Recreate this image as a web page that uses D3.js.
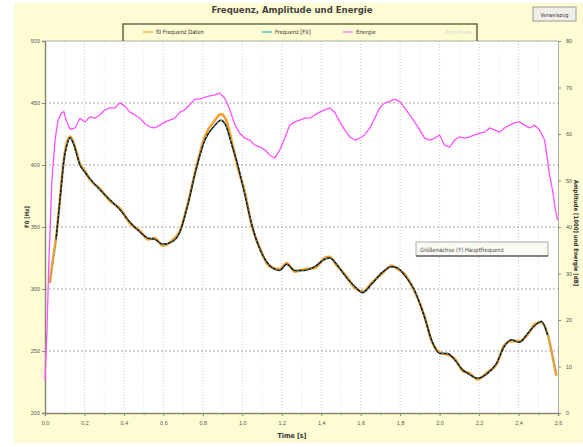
<!DOCTYPE html>
<html><head><meta charset="utf-8">
<script src="https://cdn.jsdelivr.net/npm/d3@7"></script>
<style>
html,body{margin:0;padding:0;background:#fff;}
svg{display:block;font-family:"Liberation Sans Narrow","DejaVu Sans Condensed","Liberation Sans",sans-serif;}
</style></head><body>
<svg id="c" width="583" height="447"></svg>
<script>
// ---------- data ----------
const title = "Frequenz, Amplitude und Energie";
const xTicks = [0,0.2,0.4,0.6,0.8,1.0,1.2,1.4,1.6,1.8,2.0,2.2,2.4,2.6];
const leftTicks = [200,250,300,350,400,450,500];
const rightTicks = [0,10,20,30,40,50,60,70,80];
const legendLabels = ["f0 Frequenz Daten","Frequenz [F0]","Energie","Amplitude"];

// Hauptfrequenz F0 (Hz)
const freqTime = [0.025,0.035,0.056,0.076,0.096,0.111,0.127,0.147,0.177,0.203,0.228,0.278,0.329,0.380,0.430,0.481,0.522,0.557,0.597,0.643,0.684,0.724,0.765,0.810,0.861,0.891,0.916,0.947,0.977,1.013,1.048,1.089,1.139,1.190,1.225,1.266,1.316,1.367,1.418,1.443,1.478,1.519,1.570,1.610,1.656,1.706,1.757,1.787,1.823,1.873,1.924,1.959,2.000,2.040,2.076,2.116,2.152,2.192,2.243,2.288,2.329,2.364,2.405,2.445,2.486,2.516,2.547,2.572,2.592];
const freqF0 = [305,317,340,372,404,416,422,416,400,394,389,380,372,364,354,346,341,340,336,338,346,368,396,420,432,436,432,416,400,376,352,332,319,315,320,315,315,318,324,325,320,311,302,297,304,313,318,317,311,299,277,259,248,248,243,235,231,228,232,240,254,259,257,264,271,274,263,247,233];
// f0 Frequenz Daten (raw measurement)
const freqData = [305,318,341,373,405,418,423,417,401,395,388,381,371,365,353,347,340,341,335,339,347,369,397,423,436,441,437,419,398,378,351,333,318,316,321,314,316,317,325,326,319,312,301,298,305,312,319,316,312,298,278,258,249,247,244,234,232,227,233,239,255,258,258,263,272,273,264,246,230];

// Energie (dB)
const energyTime = [0.000,0.010,0.020,0.035,0.051,0.066,0.086,0.096,0.106,0.127,0.152,0.177,0.203,0.228,0.253,0.278,0.304,0.329,0.354,0.380,0.405,0.430,0.456,0.481,0.506,0.532,0.557,0.582,0.608,0.633,0.658,0.684,0.709,0.734,0.759,0.785,0.810,0.835,0.861,0.886,0.911,0.937,0.962,0.987,1.013,1.038,1.063,1.089,1.114,1.139,1.165,1.190,1.215,1.240,1.266,1.291,1.316,1.342,1.367,1.392,1.418,1.443,1.468,1.494,1.519,1.544,1.570,1.595,1.620,1.646,1.671,1.696,1.722,1.747,1.772,1.797,1.823,1.848,1.873,1.899,1.924,1.949,1.975,2.000,2.025,2.051,2.076,2.101,2.127,2.152,2.177,2.203,2.228,2.253,2.278,2.304,2.329,2.354,2.380,2.405,2.430,2.456,2.481,2.506,2.532,2.547,2.557,2.572,2.587,2.597];
const energy = [7,18,33,50,58.7,63,64.6,64.8,63,61,61.3,63.4,62.6,63.7,63.4,64.1,65.2,65.6,65.6,66.7,66,64.7,64.1,63.4,62.2,61.5,61.3,61.9,62.6,63,63.4,64.7,65.2,66.3,67.5,67.5,67.9,68.2,68.4,68.8,67.7,65.2,62,60.2,59.1,58.7,57.6,57.2,56.6,55.5,54.8,56.6,59.1,61.9,62.6,63,63.4,63.4,64.1,64.7,65.2,65.6,64.7,62.6,60.9,59.4,58.7,59.1,59.8,61.3,63.4,65.6,66.7,67,67.5,67,65.6,64.1,62.6,60.9,59.1,58.7,59.1,59.8,57.6,57.2,58.7,59.4,59.1,59.4,59.8,60.2,60.4,61.3,60.9,60.4,61.3,61.9,62.4,62.6,61.9,61.3,61.9,60.9,58.7,54.4,51.2,48,43.7,41.5];

// ---------- layout ----------
const svg = d3.select("#c");
const L = 45, R = 558, T = 41, B = 413;
const x = d3.scaleLinear().domain([0,2.6]).range([L,R]);
const yL = d3.scaleLinear().domain([200,500]).range([B,T]);
const yR = d3.scaleLinear().domain([0,80]).range([B,T]);
const fmt = d => d3.format(".1f")(d).replace(".",",");

svg.append("rect").attr("x",14).attr("y",3).attr("width",569).attr("height",440).attr("fill","#fdfcd2");
svg.append("rect").attr("x",L).attr("y",T).attr("width",R-L).attr("height",B-T).attr("fill","#fff");

// grid
const minor = d3.range(0,27).map(i=>i/10).filter(v=>Math.round(v*10)%2===1);
svg.append("g").selectAll("line").data(minor).join("line")
  .attr("x1",d=>x(d)).attr("x2",d=>x(d)).attr("y1",T).attr("y2",B)
  .attr("stroke","#e6e6e6").attr("stroke-dasharray","1,2");
svg.append("g").selectAll("line").data(xTicks.slice(1,-1)).join("line")
  .attr("x1",d=>x(d)).attr("x2",d=>x(d)).attr("y1",T).attr("y2",B)
  .attr("stroke","#c8c8c8").attr("stroke-dasharray","1,2");
svg.append("g").selectAll("line").data(leftTicks.slice(1,-1)).join("line")
  .attr("x1",L).attr("x2",R).attr("y1",d=>yL(d)).attr("y2",d=>yL(d))
  .attr("stroke","#a8a8a8").attr("stroke-dasharray","2,2");

// axes
const tickFont = g => g.selectAll("text").attr("font-size",5.5).attr("fill","#555");
const axL = svg.append("g").attr("transform",`translate(${L},0)`)
  .call(d3.axisLeft(yL).tickValues(leftTicks).tickSize(3).tickPadding(2).tickFormat(d3.format("d")));
const axR = svg.append("g").attr("transform",`translate(${R},0)`)
  .call(d3.axisRight(yR).tickValues(rightTicks).tickSize(3).tickPadding(5).tickFormat(d3.format("d")));
const axB = svg.append("g").attr("transform",`translate(0,${B})`)
  .call(d3.axisBottom(x).tickValues(xTicks).tickSize(3).tickPadding(5).tickFormat(fmt));
svg.append("g").attr("transform",`translate(0,${B})`)
  .call(d3.axisBottom(x).tickValues(minor).tickSize(2).tickFormat(""))
  .call(g=>g.select(".domain").remove()).selectAll("line").attr("stroke","#888");
[axL,axR,axB].forEach(a=>{tickFont(a);a.selectAll("line").attr("stroke","#888");});
axL.select(".domain").attr("stroke","#8a8a70").attr("stroke-width",1.5);
axB.select(".domain").attr("stroke","#8a8a70").attr("stroke-width",1.5);
axR.select(".domain").attr("stroke","#aaa");
svg.append("line").attr("x1",L).attr("x2",R).attr("y1",T).attr("y2",T).attr("stroke","#aaa");

// series
const lineF = d3.line().x(d=>x(d[0])).y(d=>yL(d[1])).curve(d3.curveMonotoneX);
const lineE = d3.line().x(d=>x(d[0])).y(d=>yR(d[1])).curve(d3.curveLinear);
const dataPts = d3.zip(freqTime,freqData);
const f0Pts = d3.zip(freqTime,freqF0);
const ePts = d3.zip(energyTime,energy);

svg.append("path").attr("d",lineE(ePts)).attr("fill","none").attr("stroke","#ff50ff").attr("stroke-width",1.3).attr("stroke-linejoin","round");
svg.append("path").attr("d",lineF(dataPts)).attr("fill","none").attr("stroke","#f5a030").attr("stroke-width",2.6);
svg.append("path").attr("d",lineF(f0Pts.filter(d=>d[0]>=0.05&&d[0]<=2.55))).attr("fill","none").attr("stroke","#111").attr("stroke-width",1.5);
svg.append("path").attr("d",lineF(f0Pts)).attr("fill","none").attr("stroke","#35b5c8").attr("stroke-width",1).attr("stroke-dasharray","1.5,3");

// legend box
svg.append("path").attr("d","M123,41 V24 H477 V41").attr("fill","none").attr("stroke","#6b6b4e").attr("stroke-width",1.6);
const legX = [143,262,343,432];
const legCol = ["#f5a030","#35b5c8","#ff66ff",null];
const lg = svg.append("g");
legendLabels.forEach((t,i)=>{
  if(legCol[i]){
    lg.append("line").attr("x1",legX[i]).attr("x2",legX[i]+10).attr("y1",32).attr("y2",32)
      .attr("stroke",legCol[i]).attr("stroke-width",1.2);
    lg.append("text").attr("x",legX[i]+13).attr("y",34).attr("font-size",5.8).attr("fill","#333").text(t);
  } else {
    lg.append("text").attr("x",legX[i]+13).attr("y",34).attr("font-size",5.8).attr("fill","#d8d8d8").text(t);
  }
});

// title
svg.append("text").attr("x",292).attr("y",13).attr("text-anchor","middle").attr("font-size",9.5)
  .attr("font-weight","bold").attr("fill","#444").text(title);

// button
svg.append("rect").attr("x",533).attr("y",7).attr("width",43).attr("height",14).attr("fill","#efefe8")
  .attr("stroke","#999").attr("stroke-width",1);
svg.append("text").attr("x",554.5).attr("y",16.5).attr("text-anchor","middle").attr("font-size",5.5).attr("fill","#333").text("Verweiszug");

// axis titles
svg.append("text").attr("transform","translate(29,217) rotate(-90)").attr("text-anchor","middle")
  .attr("font-size",6).attr("font-weight","bold").attr("fill","#333").text("F0 [Hz]");
svg.append("text").attr("transform","translate(574,233) rotate(90)").attr("text-anchor","middle")
  .attr("font-size",6).attr("font-weight","bold").attr("fill","#333").text("Amplitude [1000] und Energie [dB]");
svg.append("text").attr("x",292).attr("y",438).attr("text-anchor","middle")
  .attr("font-size",7).attr("font-weight","bold").attr("fill","#333").text("Time [s]");

// annotation box
svg.append("rect").attr("x",416).attr("y",242).attr("width",132).attr("height",14).attr("fill","#fafaf2")
  .attr("stroke","#999").attr("stroke-width",0.8);
svg.append("line").attr("x1",416).attr("x2",548).attr("y1",256).attr("y2",256).attr("stroke","#666").attr("stroke-width",1.4);
svg.append("text").attr("x",420).attr("y",251.5).attr("font-size",5.8).attr("fill","#444").text("Größenachse (Y) Hauptfrequenz");
</script>
</body></html>
